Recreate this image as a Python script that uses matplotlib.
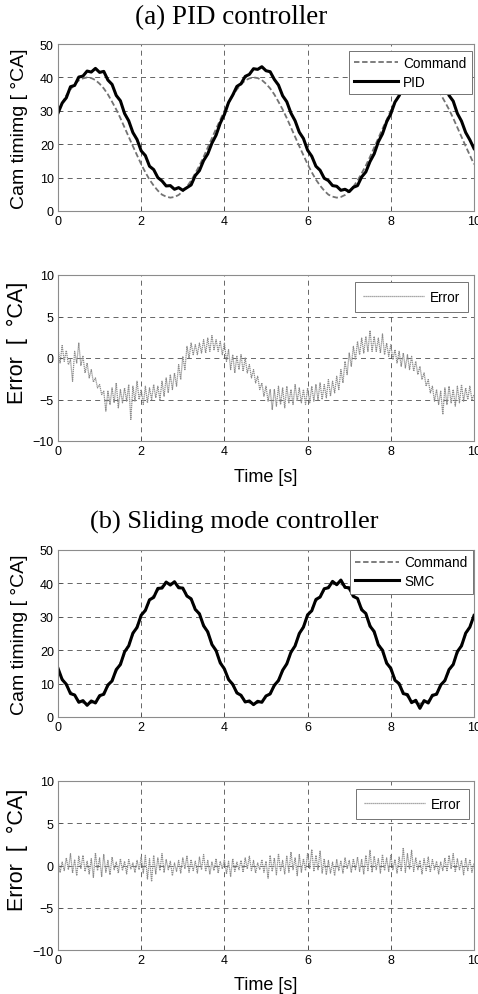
import numpy as np
import matplotlib
matplotlib.use("Agg")
import matplotlib.pyplot as plt

plt.rcParams["font.family"] = ["Liberation Sans", "DejaVu Sans"]

# time bases (s)
t_track = np.round(np.arange(0, 10.01, 0.1), 2)
t_err = np.round(np.arange(0, 10.001, 0.05), 3)

# (a) PID controller, cam timing [deg CA], 0.1 s steps
cmd_a = [
    30.0, 32.4, 34.6, 36.4, 37.9, 39.1, 39.7, 40.0, 39.8, 39.2,
    38.1, 36.7, 34.9, 32.7, 30.4, 27.8, 25.0, 22.2, 19.4, 16.7,
    14.0, 11.6, 9.4, 7.6, 6.1, 4.9, 4.3, 4.0, 4.2, 4.8,
    5.9, 7.3, 9.1, 11.3, 13.6, 16.2, 19.0, 21.8, 24.6, 27.3,
    30.0, 32.4, 34.6, 36.4, 37.9, 39.1, 39.7, 40.0, 39.8, 39.2,
    38.1, 36.7, 34.9, 32.7, 30.4, 27.8, 25.0, 22.2, 19.4, 16.7,
    14.0, 11.6, 9.4, 7.6, 6.1, 4.9, 4.3, 4.0, 4.2, 4.8,
    5.9, 7.3, 9.1, 11.3, 13.6, 16.2, 19.0, 21.8, 24.6, 27.3,
    30.0, 32.4, 34.6, 36.4, 37.9, 39.1, 39.7, 40.0, 39.8, 39.2,
    38.1, 36.7, 34.9, 32.7, 30.4, 27.8, 25.0, 22.2, 19.4, 16.7, 14.0,
]
pid = [
    29.3, 32.3, 33.9, 37.2, 37.6, 40.1, 40.4, 41.9, 41.6, 42.7,
    41.5, 41.8, 39.2, 37.9, 34.6, 33.0, 29.2, 27.0, 23.5, 21.4,
    18.0, 16.6, 13.4, 12.4, 10.0, 9.0, 7.5, 7.6, 6.5, 7.0,
    6.2, 7.0, 7.8, 10.6, 12.1, 15.1, 17.1, 20.3, 22.7, 26.3,
    28.9, 32.5, 34.7, 37.3, 38.1, 40.3, 40.9, 42.6, 42.4, 43.2,
    42.0, 41.7, 39.4, 37.7, 34.5, 32.7, 29.3, 27.0, 23.6, 21.7,
    18.2, 16.4, 13.4, 12.2, 9.8, 9.1, 7.6, 7.4, 6.2, 6.5,
    5.8, 7.1, 7.6, 10.2, 11.7, 14.8, 17.1, 20.7, 23.1, 26.7,
    29.1, 32.6, 34.5, 37.2, 38.2, 40.3, 40.6, 42.2, 42.1, 43.0,
    42.0, 41.7, 39.4, 37.7, 34.6, 32.9, 29.2, 26.9, 23.5, 21.3, 18.7,
]
# tracking error [deg CA], 0.05 s steps
err_a = [
    1.2, -0.6, 1.5, -0.4, 0.9, -0.8, -0.2, -2.8, 0.8, -0.6,
    1.8, -0.9, 0.2, -1.8, -0.6, -2.4, -1.4, -2.9, -2.4, -3.6,
    -3.2, -4.4, -4.0, -6.4, -4.0, -5.6, -3.6, -5.4, -3.0, -6.0,
    -3.8, -5.4, -3.6, -5.2, -3.2, -7.4, -3.4, -5.2, -2.8, -5.0,
    -3.8, -5.6, -3.4, -5.4, -3.6, -5.0, -3.2, -4.8, -3.4, -5.0,
    -2.8, -4.6, -2.4, -4.2, -2.0, -3.8, -1.8, -3.4, -0.8, -2.6,
    0.2, -1.4, 1.4, 0.0, 1.8, 0.4, 1.6, 0.4, 1.8, 0.6,
    2.2, 0.6, 2.4, 0.8, 2.7, 1.0, 2.2, 0.8, 2.0, 0.4,
    1.8, -0.4, 1.0, -1.4, 0.4, -1.8, 0.2, -1.4, 0.4, -1.6,
    0.0, -1.8, -0.8, -2.4, -1.4, -3.0, -2.2, -3.8, -3.0, -4.6,
    -3.4, -5.2, -3.8, -6.2, -3.8, -5.8, -3.4, -5.6, -3.6, -6.0,
    -3.4, -5.4, -3.8, -5.6, -3.2, -5.2, -3.6, -5.4, -3.8, -5.6,
    -3.6, -5.4, -3.4, -5.2, -3.2, -5.0, -3.0, -5.0, -3.2, -4.8,
    -2.6, -4.6, -2.8, -4.2, -2.2, -3.8, -1.4, -3.0, -0.4, -2.0,
    0.6, -1.0, 1.4, -0.2, 2.0, 0.4, 2.4, 0.6, 2.6, 0.8,
    3.3, 0.8, 2.6, 0.8, 2.4, 0.6, 2.9, 0.4, 1.8, 0.2,
    1.6, -0.2, 1.0, -0.6, 0.8, -1.0, 0.6, -1.2, 0.4, -1.4,
    0.2, -1.6, -0.4, -2.0, -1.0, -2.6, -1.8, -3.4, -2.6, -4.2,
    -3.4, -5.2, -3.8, -5.6, -4.0, -6.8, -3.6, -5.6, -3.4, -5.4,
    -3.8, -5.8, -3.4, -5.4, -3.2, -5.2, -3.6, -5.0, -3.4, -5.0,
    -4.4,
]

# (b) Sliding mode controller
cmd_b = [
    14.0, 11.6, 9.4, 7.6, 6.1, 4.9, 4.3, 4.0, 4.2, 4.8,
    5.9, 7.3, 9.1, 11.3, 13.6, 16.2, 19.0, 21.8, 24.6, 27.3,
    30.0, 32.4, 34.6, 36.4, 37.9, 39.1, 39.7, 40.0, 39.8, 39.2,
    38.1, 36.7, 34.9, 32.7, 30.4, 27.8, 25.0, 22.2, 19.4, 16.7,
    14.0, 11.6, 9.4, 7.6, 6.1, 4.9, 4.3, 4.0, 4.2, 4.8,
    5.9, 7.3, 9.1, 11.3, 13.6, 16.2, 19.0, 21.8, 24.6, 27.3,
    30.0, 32.4, 34.6, 36.4, 37.9, 39.1, 39.7, 40.0, 39.8, 39.2,
    38.1, 36.7, 34.9, 32.7, 30.4, 27.8, 25.0, 22.2, 19.4, 16.7,
    14.0, 11.6, 9.4, 7.6, 6.1, 4.9, 4.3, 4.0, 4.2, 4.8,
    5.9, 7.3, 9.1, 11.3, 13.6, 16.2, 19.0, 21.8, 24.6, 27.3, 30.0,
]
smc = [
    14.6, 11.2, 9.8, 7.0, 6.6, 4.4, 4.9, 3.5, 4.8, 4.2,
    6.4, 6.8, 9.6, 10.8, 14.2, 15.7, 19.5, 21.3, 25.1, 26.8,
    30.5, 31.9, 35.1, 35.8, 38.5, 38.6, 40.4, 39.5, 40.5, 38.7,
    38.6, 36.2, 35.4, 32.2, 30.9, 27.3, 25.5, 21.7, 19.9, 16.2,
    14.4, 11.2, 9.8, 7.2, 6.5, 4.5, 4.8, 3.7, 4.7, 4.4,
    6.3, 6.9, 9.5, 10.9, 14.0, 15.9, 19.4, 21.3, 25.0, 26.9,
    30.6, 31.8, 35.2, 35.9, 38.4, 38.7, 40.6, 39.6, 41.0, 38.8,
    38.7, 36.1, 35.5, 32.1, 31.0, 27.2, 25.6, 21.6, 20.0, 16.1,
    14.6, 11.0, 10.0, 7.0, 6.7, 4.3, 5.0, 2.6, 4.9, 4.2,
    6.5, 6.8, 9.6, 10.9, 14.2, 15.7, 19.6, 21.3, 25.1, 26.9, 30.4,
]
err_b = [
    0.6, -0.8, 0.4, -0.6, 0.9, -0.5, 1.4, -0.9, 0.7, -1.2,
    1.1, -0.4, 1.2, -0.7, 0.5, -1.0, 0.8, -1.4, 1.5, -0.6,
    0.9, -1.3, 1.3, -0.8, 0.6, -1.1, 1.0, -0.5, 0.4, -0.9,
    0.8, -0.6, 0.5, -1.0, 0.7, -0.4, 0.3, -0.8, 0.6, -0.5,
    1.0, -0.9, 1.2, -1.6, 0.8, -1.9, 1.2, -1.0, 0.9, -0.6,
    1.4, -0.8, 0.7, -0.5, 0.5, -1.2, 0.3, -0.7, 0.6, -0.9,
    0.9, -0.4, 1.1, -0.8, 0.7, -0.6, 0.5, -0.9, 1.0, -0.5,
    1.3, -0.7, 0.6, -1.0, 0.4, -0.6, 0.8, -0.9, 0.5, -0.4,
    0.7, -1.0, 0.5, -1.3, 0.8, -0.7, 0.4, -0.5, 0.6, -0.8,
    0.9, -0.4, 1.1, -0.6, 0.6, -0.9, 0.3, -0.5, 0.7, -0.8,
    0.5, -1.5, 1.2, -0.7, 0.9, -1.1, 1.4, -0.6, 0.6, -1.0,
    1.1, -0.8, 1.6, -0.5, 0.9, -1.2, 1.3, -0.8, 0.8, -0.6,
    1.5, -0.4, 1.9, -0.7, 1.2, -0.5, 1.7, -0.9, 0.8, -1.1,
    0.6, -0.9, 0.4, -1.2, 0.7, -0.6, 0.5, -0.9, 0.9, -0.4,
    0.6, -0.8, 0.8, -0.5, 1.0, -0.7, 0.7, -1.0, 1.2, -0.6,
    1.8, -0.8, 1.1, -0.5, 0.8, -0.9, 1.3, -0.6, 0.9, -0.7,
    1.2, -0.5, 0.7, -0.9, 1.0, -0.6, 2.1, -0.8, 1.4, -0.4,
    1.8, -0.7, 0.9, -0.5, 0.6, -1.0, 0.8, -0.6, 1.0, -0.8,
    0.7, -0.5, 0.5, -1.0, 0.4, -0.6, 0.9, -0.7, 1.2, -0.4,
    1.4, -0.8, 0.8, -0.5, 0.6, -1.1, 0.9, -0.6, 0.7, -0.8,
    0.3,
]

x_ticks = [0, 2, 4, 6, 8, 10]
cam_ticks = [0, 10, 20, 30, 40, 50]
err_ticks = [-10, -5, 0, 5, 10]

W, H = 478, 995
fig = plt.figure(figsize=(W / 100, H / 100), dpi=100)


def make_axes(left, top, right, bottom):
    ax = fig.add_axes([left / W, 1 - bottom / H, (right - left) / W, (bottom - top) / H])
    ax.set_xlim(0, 10)
    ax.set_xticks(x_ticks)
    ax.tick_params(direction="in", length=3, width=0.6, color="0.3", labelsize=9, pad=3)
    for s in ax.spines.values():
        s.set_color("0.55")
        s.set_linewidth(0.8)
    ax.grid(True, color="0.3", linestyle=(0, (6, 5)), linewidth=0.6)
    ax.set_axisbelow(True)
    return ax


def style_legend(leg):
    fr = leg.get_frame()
    fr.set_edgecolor("0.45")
    fr.set_linewidth(0.7)
    fr.set_alpha(1)


def tracking_panel(ax, cmd, resp, resp_name, leg_anchor):
    ax.plot(t_track, cmd, color="0.45", linestyle=(0, (3, 1.5)), linewidth=1.3, label="Command")
    ax.plot(t_track, resp, color="black", linewidth=2.2, label=resp_name)
    ax.set_ylim(0, 50)
    ax.set_yticks(cam_ticks)
    ax.set_ylabel("Cam timimg [ °CA]", fontsize=14)
    ax.yaxis.set_label_coords(-0.072, 0.5)
    leg = ax.legend(loc="upper right", bbox_to_anchor=leg_anchor, fontsize=9.8,
                    handlelength=3.2, borderaxespad=0, fancybox=False,
                    borderpad=0.4, labelspacing=0.35, handletextpad=0.4)
    style_legend(leg)


def error_panel(ax, err, leg_anchor, xlab_y):
    ax.plot(t_err, err, color="0.55", linestyle=(0, (1, 0.6)), linewidth=0.9, label="Error")
    ax.set_ylim(-10, 10)
    ax.set_yticks(err_ticks)
    ax.set_ylabel("Error  [  °CA]", fontsize=15.5)
    ax.yaxis.set_label_coords(-0.072, 0.6)
    ax.set_xlabel("Time [s]", fontsize=13)
    ax.xaxis.set_label_coords(0.5, xlab_y)
    leg = ax.legend(loc="upper right", bbox_to_anchor=leg_anchor, fontsize=9.8,
                    handlelength=4.5, borderaxespad=0, fancybox=False,
                    borderpad=0.6, handletextpad=0.4)
    style_legend(leg)


ax1 = make_axes(58, 45, 474, 212)
tracking_panel(ax1, cmd_a, pid, "PID", (0.995, 0.96))
ax2 = make_axes(58, 276, 474, 442)
error_panel(ax2, err_a, (0.986, 0.958), -0.165)
ax3 = make_axes(58, 551, 474, 718)
tracking_panel(ax3, cmd_b, smc, "SMC", (0.998, 1.0))
ax4 = make_axes(58, 782, 474, 951)
error_panel(ax4, err_b, (0.988, 0.953), -0.152)

fig.text(231 / W, 1 - 18 / H, "(a) PID controller", family="Liberation Serif",
         fontsize=19.5, ha="center", va="center")
fig.text(234 / W, 1 - 522 / H, "(b) Sliding mode controller", family="Liberation Serif",
         fontsize=19, ha="center", va="center")

fig.savefig("out.png", dpi=100)
